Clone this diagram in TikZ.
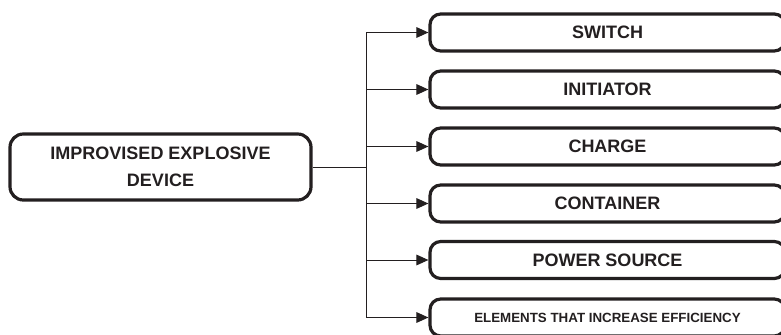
\documentclass[tikz,border=0pt]{standalone}
\usepackage{fontspec}
\setmainfont{Liberation Sans}
\usetikzlibrary{arrows.meta}

\definecolor{ink}{RGB}{35,31,32}

\tikzset{every picture/.style={line width=0.75pt}}
\tikzset{
  partbox/.style={draw=ink, line width=2.4pt, rounded corners=8pt, minimum width=266.25pt, minimum height=27.75pt, inner sep=0pt, text=ink, font=\fontsize{13.5}{20}\selectfont\bfseries},
  rootbox/.style={draw=ink, line width=2.4pt, rounded corners=10pt, minimum width=225.75pt, minimum height=49.5pt, align=center, text=ink, font=\fontsize{13.5}{20}\selectfont\bfseries},
  feed/.style={draw=ink, line width=0.75pt, -{Triangle[length=9pt,width=8pt]}}
}

\begin{document}
\begin{tikzpicture}[x=0.75pt,y=0.75pt,yscale=-1,xscale=1]
\clip (0,0) rectangle (781,335);

% Root node
\node[rootbox] (ied) at (160.5,167) {IMPROVISED EXPLOSIVE\\DEVICE};

% Parts
\node[partbox] (switch) at (607.5,32.5) {SWITCH};
\node[partbox] (initiator) at (607.5,89.5) {INITIATOR};
\node[partbox] (charge) at (607.5,146.5) {CHARGE};
\node[partbox] (container) at (607.5,203.5) {CONTAINER};
\node[partbox] (power) at (607.5,260) {POWER SOURCE};
\node[partbox, font=\fontsize{10}{12}\selectfont\bfseries] (elements) at (607.5,317.5) {ELEMENTS THAT INCREASE EFFICIENCY};

% Fork point
\coordinate (fork) at (366,167);

% Straight Lines
\draw[draw=ink] (ied.east) -- (fork);
\draw[draw=ink] (fork |- switch.west) -- (fork |- elements.west);

% Arrows
\draw[feed] (fork |- switch.west) -- (switch.west);
\draw[feed] (fork |- initiator.west) -- (initiator.west);
\draw[feed] (fork |- charge.west) -- (charge.west);
\draw[feed] (fork |- container.west) -- (container.west);
\draw[feed] (fork |- power.west) -- (power.west);
\draw[feed] (fork |- elements.west) -- (elements.west);

\end{tikzpicture}
\end{document}
